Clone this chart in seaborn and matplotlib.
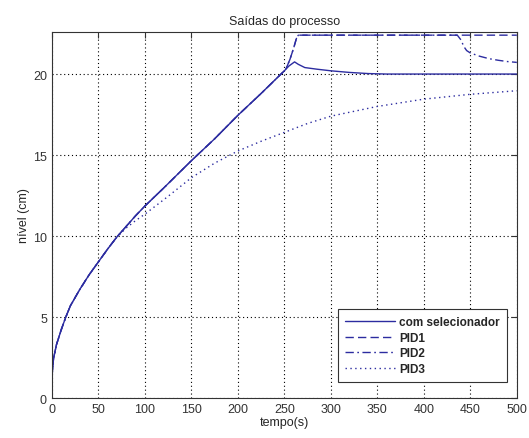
import numpy as np
import pandas as pd
import matplotlib
matplotlib.use("Agg")
import matplotlib.pyplot as plt
import seaborn as sns

# trecho comum (todas as saídas sobem juntas)
t_subida = [0, 1, 2, 5, 10, 15, 20, 30, 40, 50, 60, 70, 80, 90, 100, 120, 150, 175, 200, 225, 250]
nivel_subida = [1.0, 2.0, 2.5, 3.3, 4.2, 5.0, 5.7, 6.7, 7.6, 8.4, 9.2, 9.95, 10.6, 11.25, 11.85,
                12.95, 14.65, 16.0, 17.45, 18.8, 20.2]

# com selecionador
t_sel = [255, 261, 265, 272, 285, 300, 320, 340, 360, 400, 450, 500]
nivel_sel = [20.5, 20.75, 20.6, 20.4, 20.3, 20.2, 20.1, 20.03, 20.0, 20.0, 20.0, 20.0]

# PID1 (satura)
t_pid1 = [252, 256, 260, 263, 265, 300, 400, 500]
nivel_pid1 = [20.35, 20.9, 21.6, 22.2, 22.4, 22.4, 22.4, 22.4]

# PID2 (igual ao PID1 até ~436 s, depois cai)
t_pid2 = [252, 256, 260, 263, 265, 300, 400, 436, 440, 443, 446, 450, 460, 470, 480, 490, 500]
nivel_pid2 = [20.35, 20.9, 21.6, 22.2, 22.4, 22.4, 22.4, 22.4, 22.1, 21.7, 21.45, 21.3, 21.1,
              20.95, 20.85, 20.77, 20.72]

# PID3 (mais lento)
t_pid3 = [0, 1, 2, 5, 10, 15, 20, 30, 40, 50, 60, 70, 80, 90, 100, 125, 150, 175, 200, 225,
          250, 275, 300, 350, 400, 450, 500]
nivel_pid3 = [1.0, 2.0, 2.5, 3.3, 4.2, 5.0, 5.7, 6.7, 7.6, 8.4, 9.2, 9.93, 10.5, 10.95, 11.35,
              12.45, 13.6, 14.5, 15.25, 15.85, 16.4, 16.95, 17.4, 18.0, 18.45, 18.75, 18.97]

cor = "#2c2ca0"

series = {
    "com selecionador": (t_subida + t_sel, nivel_subida + nivel_sel, "-"),
    "PID1": (t_subida + t_pid1, nivel_subida + nivel_pid1, (0, (6, 3))),
    "PID2": (t_subida + t_pid2, nivel_subida + nivel_pid2, (0, (6, 2.5, 1.2, 2.5))),
    "PID3": (t_pid3, nivel_pid3, (0, (1, 2.5))),
}

sns.set_style("white")
plt.rcParams["font.family"] = ["Liberation Sans", "DejaVu Sans"]

fig = plt.figure(figsize=(5.29, 4.39), dpi=100)
ax = fig.add_axes([0.098, 0.091, 0.879, 0.834])

for nome, (t, y, estilo) in series.items():
    df = pd.DataFrame({"tempo": t, "nivel": y})
    sns.lineplot(data=df, x="tempo", y="nivel", ax=ax, color=cor, linewidth=1.0,
                 linestyle=estilo, label=nome)

ax.set_xlim(0, 500)
ax.set_ylim(0, 22.6)
ax.set_xticks(np.arange(0, 501, 50))
ax.set_yticks([0, 5, 10, 15, 20])
ax.grid(True, color="black", linestyle=(0, (1, 2.5)), linewidth=0.8)
ax.tick_params(direction="in", top=True, right=True, length=4, labelsize=9,
               colors="#333333", width=0.8)
for s in ax.spines.values():
    s.set_color("#333333")
    s.set_linewidth(0.8)

ax.set_title("Saídas do processo", fontsize=9, pad=6)
ax.set_xlabel("tempo(s)", fontsize=9, labelpad=1)
ax.set_ylabel("nível (cm)", fontsize=9, labelpad=2)

leg = ax.legend(loc="lower right", bbox_to_anchor=(0.978, 0.044), borderaxespad=0,
                fancybox=False, edgecolor="#333333", framealpha=1, handlelength=4.3,
                prop={"weight": "bold", "size": 8.5}, labelspacing=0.3,
                borderpad=0.6, handletextpad=0.3)
leg.get_frame().set_linewidth(0.8)

fig.savefig("out.png", dpi=100, facecolor="white")
